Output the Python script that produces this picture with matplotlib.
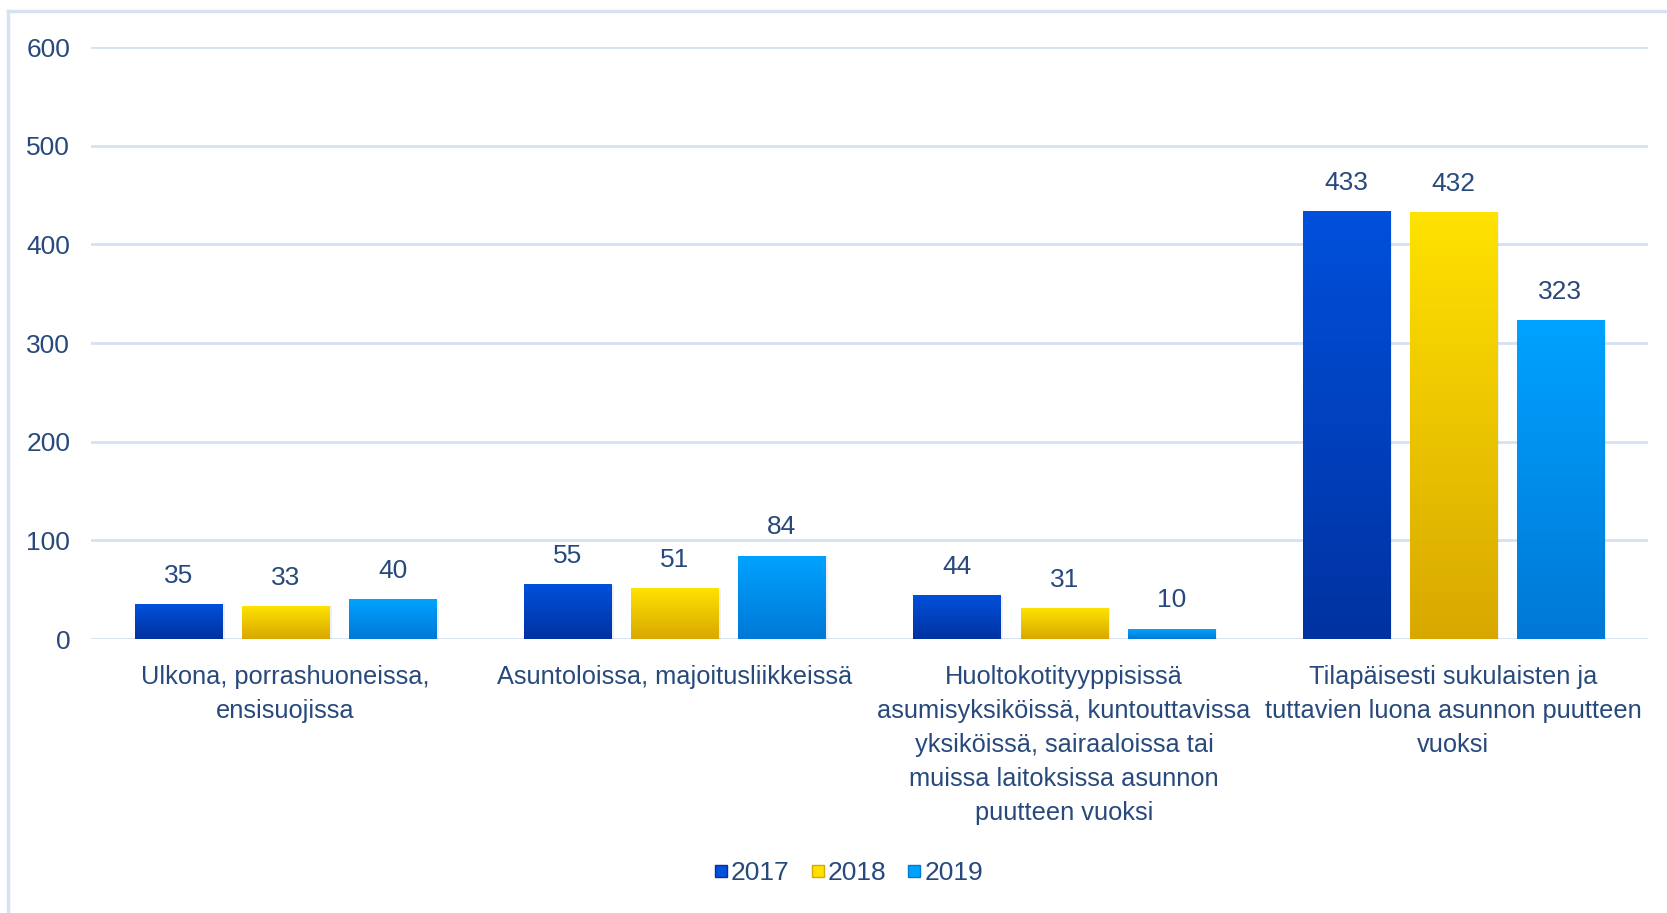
import numpy as np
import matplotlib.pyplot as plt
from matplotlib.colors import LinearSegmentedColormap
from matplotlib.patches import Rectangle
from matplotlib.lines import Line2D

# --- data ---
categories = [
    "Ulkona, porrashuoneissa,\nensisuojissa",
    "Asuntoloissa, majoitusliikkeissä",
    "Huoltokotityyppisissä\nasumisyksiköissä, kuntouttavissa\nyksiköissä, sairaaloissa tai\nmuissa laitoksissa asunnon\npuutteen vuoksi",
    "Tilapäisesti sukulaisten ja\ntuttavien luona asunnon puutteen\nvuoksi",
]
years = ["2017", "2018", "2019"]
v2017 = [35, 55, 44, 433]
v2018 = [33, 51, 31, 432]
v2019 = [40, 84, 10, 323]
yticks = [0, 100, 200, 300, 400, 500, 600]

# top -> bottom colours of each gradient
grads = [("#0050dc", "#0032a0"), ("#ffe200", "#d8a800"), ("#00a2ff", "#0078d6")]
txt = "#27497c"
grid_c = "#d6e2f3"

plt.rcParams['font.family'] = ['Liberation Sans', 'DejaVu Sans']

fig = plt.figure(figsize=(16.67, 9.13), dpi=100)
ax = fig.add_axes([0.0546, 0.3001, 0.934, 0.6484])

x = np.arange(len(categories))
step = 0.275
width = 0.224
series = [v2017, v2018, v2019]

grad = np.linspace(1, 0, 256).reshape(-1, 1)
for i, vals in enumerate(series):
    top, bot = grads[i]
    cmap = LinearSegmentedColormap.from_list("g%d" % i, [bot, top])
    bars = ax.bar(x + (i - 1) * step, vals, width, color="none", zorder=3)
    for r, v in zip(bars, vals):
        x0 = r.get_x()
        # faint shadow
        ax.add_patch(Rectangle((x0 + 0.006, 0), width, v, color="#000000",
                               alpha=0.06, lw=0, zorder=2))
        ax.imshow(grad, cmap=cmap, extent=(x0, x0 + width, 0, v),
                  aspect="auto", zorder=3, interpolation="bilinear")
        ax.text(r.get_x() + width / 2, v + 17, str(v), ha="center", va="bottom",
                fontsize=19, color=txt)

ax.set_xlim(-0.5, 3.5)
ax.set_ylim(0, 600)
ax.set_yticks(yticks)
ax.set_xticks(x)
ax.set_xticklabels(categories, fontsize=18.3, color=txt, linespacing=1.52,
                   va="top")
ax.tick_params(axis="y", labelsize=19, labelcolor=txt, length=0, pad=15)
ax.tick_params(axis="x", length=0, pad=19)
ax.grid(axis="y", color=grid_c, lw=2, zorder=0)
ax.set_axisbelow(True)
for s in ax.spines.values():
    s.set_visible(False)

handles = [Line2D([], [], marker="s", ls="none", markersize=8.5,
                  markerfacecolor=g[0], markeredgecolor=g[1]) for g in grads]
fig.legend(handles, years, loc="center", bbox_to_anchor=(0.508, 0.044),
           ncol=3, frameon=False, fontsize=19, labelcolor=txt,
           handletextpad=0.0, columnspacing=0.65, handlelength=0.8)

# outer frame (top and left edge visible)
fig.add_artist(Line2D([8 / 1667, 8 / 1667], [0, 1 - 11 / 913],
                      transform=fig.transFigure, color=grid_c, lw=2.5))
fig.add_artist(Line2D([8 / 1667, 1], [1 - 11 / 913, 1 - 11 / 913],
                      transform=fig.transFigure, color=grid_c, lw=2.5))

fig.savefig("out.png", dpi=100)
